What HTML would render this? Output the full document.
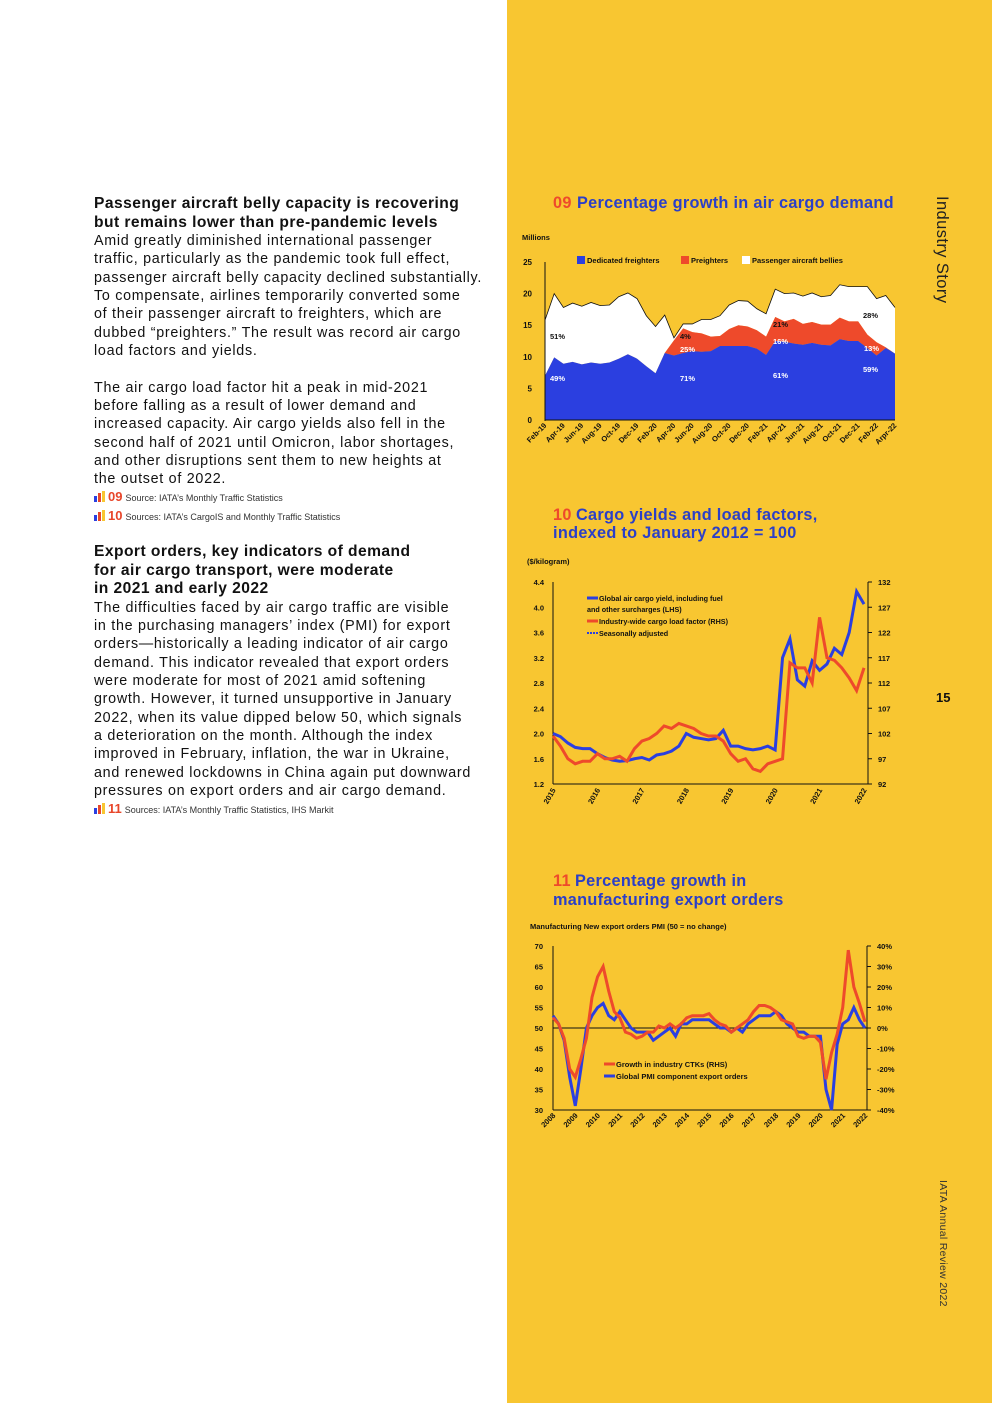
<!DOCTYPE html>
<html><head><meta charset="utf-8"><style>
body{margin:0;width:992px;height:1403px;position:relative;background:#fff;font-family:"Liberation Sans",sans-serif;overflow:hidden}
#panel{position:absolute;left:507px;top:0;width:485px;height:1403px;background:#F8C631}
.lt{position:absolute;left:94px;color:#111;font-size:14.3px;line-height:18.35px;letter-spacing:0.72px;white-space:nowrap}
.lt h3{margin:0;font-size:15.6px;line-height:18.5px;font-weight:bold;letter-spacing:0.45px}
.lt p{margin:0}
.src{position:absolute;left:94px;font-size:9px;color:#333;white-space:nowrap}
.src b{color:#E8462A;font-size:13px;margin-right:3px}
.ic{display:inline-block;width:12px;height:10px;margin-right:2px;vertical-align:-1px;position:relative}
.ic i{position:absolute;bottom:0;width:3px}
svg text{font-family:"Liberation Sans",sans-serif}
</style></head><body>
<div id="panel"></div>

<div class="lt" style="top:195px">
<h3>Passenger aircraft belly capacity is recovering<br>but remains lower than pre-pandemic levels</h3>
<p>Amid greatly diminished international passenger<br>traffic, particularly as the pandemic took full effect,<br>passenger aircraft belly capacity declined substantially.<br>To compensate, airlines temporarily converted some<br>of their passenger aircraft to freighters, which are<br>dubbed “preighters.” The result was record air cargo<br>load factors and yields.</p>
<p style="margin-top:18.35px">The air cargo load factor hit a peak in mid-2021<br>before falling as a result of lower demand and<br>increased capacity. Air cargo yields also fell in the<br>second half of 2021 until Omicron, labor shortages,<br>and other disruptions sent them to new heights at<br>the outset of 2022.</p>
</div>
<div class="src" style="top:489px"><span class="ic"><i style="left:0;height:6px;background:#2B3FE0"></i><i style="left:4px;height:9px;background:#E8462A"></i><i style="left:8px;height:11px;background:#F8C631"></i></span><b>09</b>Source: IATA’s Monthly Traffic Statistics</div>
<div class="src" style="top:508px"><span class="ic"><i style="left:0;height:6px;background:#2B3FE0"></i><i style="left:4px;height:9px;background:#E8462A"></i><i style="left:8px;height:11px;background:#F8C631"></i></span><b>10</b>Sources: IATA’s CargoIS and Monthly Traffic Statistics</div>

<div class="lt" style="top:543px">
<h3>Export orders, key indicators of demand<br>for air cargo transport, were moderate<br>in 2021 and early 2022</h3>
<p>The difficulties faced by air cargo traffic are visible<br>in the purchasing managers’ index (PMI) for export<br>orders—historically a leading indicator of air cargo<br>demand. This indicator revealed that export orders<br>were moderate for most of 2021 amid softening<br>growth. However, it turned unsupportive in January<br>2022, when its value dipped below 50, which signals<br>a deterioration on the month. Although the index<br>improved in February, inflation, the war in Ukraine,<br>and renewed lockdowns in China again put downward<br>pressures on export orders and air cargo demand.</p>
</div>
<div class="src" style="top:801px"><span class="ic"><i style="left:0;height:6px;background:#2B3FE0"></i><i style="left:4px;height:9px;background:#E8462A"></i><i style="left:8px;height:11px;background:#F8C631"></i></span><b>11</b>Sources: IATA’s Monthly Traffic Statistics, IHS Markit</div>

<div style="position:absolute;left:932px;top:196px;writing-mode:vertical-rl;font-size:16.5px;letter-spacing:0.4px;color:#222">Industry Story</div>
<div style="position:absolute;left:936px;top:690px;font-size:13px;font-weight:bold;color:#111">15</div>
<div style="position:absolute;left:937px;top:1180px;writing-mode:vertical-rl;font-size:10.5px;letter-spacing:0.3px;color:#333">IATA Annual Review 2022</div>

<svg id="s" width="992" height="1403" style="position:absolute;left:0;top:0"></svg>
<script>
// ---- Chart 09 data ----
const c1Labels=["Feb-19","Apr-19","Jun-19","Aug-19","Oct-19","Dec-19","Feb-20","Apr-20","Jun-20","Aug-20","Oct-20","Dec-20","Feb-21","Apr-21","Jun-21","Aug-21","Oct-21","Dec-21","Feb-22","Arpr-22"];
const c1Total=[15.8,20,17.8,18.5,18,18.6,18.1,18.2,19.5,20.1,19.2,16.5,14.8,16.6,13,15.2,15.2,15.9,15.9,16.5,18.2,18.9,18.8,17.6,16.8,20.7,20,20.1,19.6,20.1,19.5,19.7,21.4,21.1,21.1,21.1,19.2,19.7,17.8];
const c1Dedicated=[7,9.9,8.9,9.2,8.8,9.1,8.9,9.1,9.7,10.4,9.7,8.5,7.4,10.6,10.2,10.6,10.9,10.8,10.9,11.7,11.7,11.7,11.7,11.3,10.3,12.5,12.4,12.1,11.9,12.2,11.9,11.8,12.8,12.5,12.5,11.4,10.2,11.4,10.5];
const c1Preighters=[0,0,0,0,0,0,0,0,0,0,0,0,0,0,2.4,3.9,3,2.9,2.3,1.6,2.7,3.3,3.1,2.9,2.9,3.8,3.2,3.9,3.3,3.3,3.2,3.3,3.4,3.1,3.1,2.1,2.1,0.1,0];
const c1Ticks=[0,5,10,15,20,25];
// ---- Chart 10 data (bi-monthly, Jan 2015 - Jan 2022) ----
const c2Years=["2015","2016","2017","2018","2019","2020","2021","2022"];
const c2Yield=[2.0,1.95,1.85,1.78,1.76,1.76,1.68,1.62,1.58,1.56,1.57,1.60,1.62,1.58,1.66,1.68,1.72,1.80,2.0,1.94,1.92,1.90,1.92,2.05,1.80,1.80,1.76,1.74,1.76,1.80,1.74,3.2,3.5,2.85,2.75,3.15,3.0,3.1,3.35,3.25,3.6,4.25,4.05];
const c2Load=[101.5,99.5,97,96,96.5,96.5,98,97,97,97.5,96.5,99,100.5,101,102,103.5,103,104,103.5,103,102,101.5,101.5,100.5,98,96.5,97,95,94.5,96,96.5,97,116,115,115,112,125,117,116.5,115,113,110.5,115];
const c2Left=[1.2,1.6,2.0,2.4,2.8,3.2,3.6,4.0,4.4];
const c2Right=[92,97,102,107,112,117,122,127,132];
// ---- Chart 11 data (quarterly 2008Q1 - 2022Q1) ----
const c3Years=["2008","2009","2010","2011","2012","2013","2014","2015","2016","2017","2018","2019","2020","2021","2022"];
const c3Pmi=[53,51,47,38,31,40,50,53,55,56,53,52,54,52,50,49,49,49,47,48,49,50,48,51,51,52,52,52,52,51,50,50,49,50,49,51,52,53,53,53,54,53,51,50,49,49,48,48,48,35,30,46,51,52,55,52,50];
const c3Ctk=[5,2,-5,-20,-24,-15,-5,15,25,30,18,8,5,-2,-3,-5,-4,-2,-2,1,0,2,0,2,5,6,6,6,7,4,2,1,-2,0,2,4,8,11,11,10,8,4,3,2,-4,-5,-4,-4,-7,-25,-12,-3,10,38,20,12,3];
const c3Left=[30,35,40,45,50,55,60,65,70];
const c3Right=["-40%","-30%","-20%","-10%","0%","10%","20%","30%","40%"];

const S=document.getElementById('s');const NS="http://www.w3.org/2000/svg";
function el(t,a,txt){const e=document.createElementNS(NS,t);for(const k in a)e.setAttribute(k,a[k]);if(txt!==undefined)e.textContent=txt;S.appendChild(e);return e;}
function tx(x,y,s,o){return el('text',Object.assign({x:x,y:y,'font-size':8,'font-weight':'bold',fill:'#111'},o||{}),s);}
const BL='#2B3FE0',RD='#EE4A2B';
const TT={'font-size':16.3,fill:'#2B3FC8','letter-spacing':0.3};

// ===== Chart 09 =====
let t=tx(553,208,"09",{'font-size':16.3,fill:'#EE4A2B','letter-spacing':0.3});
tx(577,208,"Percentage growth in air cargo demand",TT);
tx(522,240,"Millions",{'font-size':7.5});
const x1=i=>545+i*350/(c1Total.length-1), y1=v=>420-v*158/25;
function area(top,bot,fill,name){let d='M'+top.map((v,i)=>x1(i)+','+y1(v)).join('L');for(let i=bot.length-1;i>=0;i--)d+='L'+x1(i)+','+y1(bot[i]);const p=el('path',{d:d+'Z',fill:fill});}
const zero=c1Total.map(()=>0), pre=c1Dedicated.map((v,i)=>v+c1Preighters[i]);
area(c1Total,pre,'#fff','area-passenger-bellies');
area(pre,c1Dedicated,'#EE4A2B','area-preighters');
area(c1Dedicated,zero,'#2B3FE0','area-dedicated-freighters');
el('path',{d:'M'+c1Total.map((v,i)=>x1(i)+','+y1(v)).join('L'),fill:'none',stroke:'#111','stroke-width':0.8});
el('line',{x1:545,y1:262,x2:545,y2:421,stroke:'#111'});el('line',{x1:545,y1:420,x2:895,y2:420,stroke:'#111'});
c1Ticks.forEach(v=>tx(532,y1(v)+3,v,{'text-anchor':'end'}));
c1Labels.forEach((l,i)=>{const x=x1(Math.min(i*2,c1Total.length-1));tx(x+2,426,l,{'text-anchor':'end',transform:`rotate(-45 ${x+2} 426)`,'font-size':7.5});});
[[577,'#2B3FE0','Dedicated freighters'],[681,'#EE4A2B','Preighters'],[742,'#fff','Passenger aircraft bellies']].forEach(([x,c,s])=>{el('rect',{x:x,y:256,width:8,height:8,fill:c});tx(x+10,263,s,{'font-size':7.5});});
[[550,339,'51%','#111'],[550,381,'49%','#fff'],[680,339,'4%','#111'],[680,352,'25%','#fff'],[680,381,'71%','#fff'],[773,327,'21%','#111'],[773,344,'16%','#fff'],[773,378,'61%','#fff'],[863,318,'28%','#111'],[864,351,'13%','#fff'],[863,372,'59%','#fff']].forEach(a=>tx(a[0],a[1],a[2],{fill:a[3],'font-size':7.5}));

// ===== Chart 10 =====
tx(553,520,"10",{'font-size':16.3,fill:'#EE4A2B','letter-spacing':0.3});
tx(576,520,"Cargo yields and load factors,",TT);
tx(553,538,"indexed to January 2012 = 100",TT);
tx(527,564,"($/kilogram)",{'font-size':7.5});
const X2L=553,X2R=868;const x2=i=>X2L+i*(864-X2L)/(c2Yield.length-1);
const yL=v=>784-(v-1.2)*202/3.2, yR=v=>784-(v-92)*202/40;
el('line',{x1:X2L,y1:582,x2:X2L,y2:784,stroke:'#111'});el('line',{x1:X2L,y1:784,x2:X2R,y2:784,stroke:'#111'});el('line',{x1:X2R,y1:582,x2:X2R,y2:784,stroke:'#111'});
c2Left.forEach(v=>tx(544,yL(v)+3,v.toFixed(1),{'text-anchor':'end','font-size':7.5}));
c2Right.forEach(v=>{tx(878,yR(v)+3,v,{'font-size':7.5});el('line',{x1:X2R,y1:yR(v),x2:X2R+4,y2:yR(v),stroke:'#111'});});
c2Years.forEach((y,i)=>{const x=X2L+i*(864-X2L)/7;tx(x+3,790,y,{'text-anchor':'end',transform:`rotate(-60 ${x+3} 790)`,'font-size':7.5});});
let p=el('path',{d:'M'+c2Yield.map((v,i)=>x2(i)+','+yL(v)).join('L'),fill:'none',stroke:BL,'stroke-width':3});
p=el('path',{d:'M'+c2Load.map((v,i)=>x2(i)+','+yR(v)).join('L'),fill:'none',stroke:RD,'stroke-width':3});
el('line',{x1:587,y1:598,x2:598,y2:598,stroke:BL,'stroke-width':3});tx(599,601,"Global air cargo yield, including fuel",{'font-size':7.2});
tx(587,612,"and other surcharges (LHS)",{'font-size':7.2});
el('line',{x1:587,y1:621,x2:598,y2:621,stroke:RD,'stroke-width':3});tx(599,624,"Industry-wide cargo load factor (RHS)",{'font-size':7.2});
el('line',{x1:587,y1:633,x2:598,y2:633,stroke:BL,'stroke-width':2,'stroke-dasharray':'2 1'});tx(599,636,"Seasonally adjusted",{'font-size':7.2});

// ===== Chart 11 =====
tx(553,886,"11",{'font-size':16.3,fill:'#EE4A2B','letter-spacing':0.3});
tx(575,886,"Percentage growth in",TT);
tx(553,905,"manufacturing export orders",TT);
tx(530,929,"Manufacturing New export orders PMI (50 = no change)",{'font-size':7.5});
const X3L=553,X3R=867;const x3=i=>X3L+i*(865-X3L)/(c3Pmi.length-1);
const y3=v=>1110-(v-30)*164/40, y3r=v=>1028-v*82/40;
el('line',{x1:X3L,y1:946,x2:X3L,y2:1110,stroke:'#111'});el('line',{x1:X3L,y1:1110,x2:X3R,y2:1110,stroke:'#111'});el('line',{x1:X3R,y1:946,x2:X3R,y2:1110,stroke:'#111'});
el('line',{x1:X3L,y1:1028,x2:X3R,y2:1028,stroke:'#111'});
c3Left.forEach(v=>tx(543,y3(v)+3,v,{'text-anchor':'end','font-size':7.5}));
c3Right.forEach((v,i)=>{const y=1110-i*164/8;tx(877,y+3,v,{'font-size':7.5});el('line',{x1:X3R,y1:y,x2:X3R+4,y2:y,stroke:'#111'});});
c3Years.forEach((y,i)=>{const x=X3L+i*(865-X3L)/14;tx(x+3,1116,y,{'text-anchor':'end',transform:`rotate(-45 ${x+3} 1116)`,'font-size':7.5});});
p=el('path',{d:'M'+c3Pmi.map((v,i)=>x3(i)+','+y3(v)).join('L'),fill:'none',stroke:BL,'stroke-width':3});
p=el('path',{d:'M'+c3Ctk.map((v,i)=>x3(i)+','+y3r(v)).join('L'),fill:'none',stroke:RD,'stroke-width':3});
el('line',{x1:604,y1:1064,x2:615,y2:1064,stroke:RD,'stroke-width':3});tx(616,1067,"Growth in industry CTKs (RHS)",{'font-size':7.5});
el('line',{x1:604,y1:1076,x2:615,y2:1076,stroke:BL,'stroke-width':3});tx(616,1079,"Global PMI component export orders",{'font-size':7.5});
</script>
</body></html>
